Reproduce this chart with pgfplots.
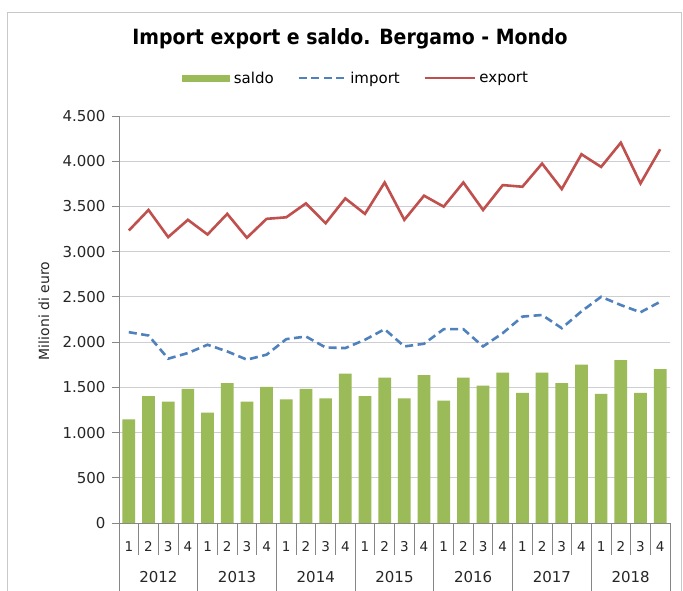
\documentclass[border=0pt]{standalone}
\usepackage{fontspec}
\setmainfont{DejaVu Sans}
\newfontfamily\titlefont{DejaVu Sans Condensed}
\usepackage{pgfplots}
\pgfplotsset{compat=1.18}
\definecolor{saldogreen}{RGB}{155,187,89}
\definecolor{importblue}{RGB}{79,129,189}
\definecolor{exportred}{RGB}{192,80,77}
\definecolor{gridc}{RGB}{205,205,212}
\definecolor{axisgray}{RGB}{134,134,134}
\definecolor{framegray}{RGB}{200,200,200}
\begin{document}
\begin{tikzpicture}
\path[use as bounding box] (-119pt,-67pt) rectangle (564pt,523pt);
\fill[white] (-119pt,-67pt) rectangle (564pt,523pt);
\draw[framegray, line width=0.8pt] (-112pt,-75pt) rectangle (562pt,511pt);
\begin{axis}[
  at={(0pt,0pt)}, anchor=south west, scale only axis,
  width=551pt, height=407pt,
  xmin=-0.5, xmax=27.5, ymin=0, ymax=4500,
  clip=false,
  axis x line*=bottom, axis y line*=left,
  axis line style={-, draw=axisgray, line width=0.9pt},
  ytick={0,500,...,4500},
  ymajorgrids, grid style={draw=gridc, line width=0.9pt},
  tick align=outside, major tick length=7pt,
  ytick style={draw=axisgray, line width=0.9pt},
  xtick style={draw=none},
  xtick={0,...,27},
  xticklabels={1,2,3,4,1,2,3,4,1,2,3,4,1,2,3,4,1,2,3,4,1,2,3,4,1,2,3,4},
  xticklabel style={font=\fontsize{13.5}{16}\selectfont, text=black!85, yshift=-8pt},
  yticklabel style={font=\fontsize{15}{18}\selectfont, text=black!85, /pgf/number format/1000 sep={.}, xshift=-3pt},
  /pgf/number format/assume math mode=true,
  scaled y ticks=false,
  legend style={at={(axis description cs:0.43,1.093)}, anchor=center, draw=none, fill=none,
    legend columns=-1, font=\fontsize{15}{18}\selectfont,
    nodes={inner xsep=1.5pt},
    /tikz/every odd column/.append style={column sep=2pt},
    /tikz/every even column/.append style={column sep=22pt}},
  legend cell align=left,
]
\addplot[ybar, bar width=12.7pt, fill=saldogreen, draw=none,
  legend image code/.code={\fill[saldogreen] (0pt,-3.5pt) rectangle (48pt,3.5pt);}]
  coordinates {
  (0,1146) (1,1403) (2,1341) (3,1484)
  (4,1220) (5,1546) (6,1341) (7,1505)
  (8,1366) (9,1484) (10,1377) (11,1652)
  (12,1403) (13,1608) (14,1377) (15,1634)
  (16,1352) (17,1608) (18,1520) (19,1663)
  (20,1440) (21,1663) (22,1546) (23,1751)
  (24,1429) (25,1802) (26,1440) (27,1700)};
\addlegendentry{saldo}
\addplot[importblue, line width=2.6pt, dash pattern=on 8pt off 4.5pt, mark=none,
  legend image code/.code={\draw[importblue, line width=2.6pt, dash pattern=on 8pt off 4.5pt] (0pt,0pt) -- (47pt,0pt);}]
  coordinates {
  (0,2110) (1,2073) (2,1817) (3,1879)
  (4,1971) (5,1897) (6,1806) (7,1861)
  (8,2033) (9,2062) (10,1941) (11,1934)
  (12,2026) (13,2143) (14,1952) (15,1982)
  (16,2143) (17,2143) (18,1952) (19,2099)
  (20,2282) (21,2300) (22,2154) (23,2340)
  (24,2501) (25,2410) (26,2330) (27,2446)};
\addlegendentry{import}
\addplot[exportred, line width=2.6pt, mark=none,
  legend image code/.code={\draw[exportred, line width=2.6pt] (0pt,0pt) -- (50pt,0pt);}]
  coordinates {
  (0,3234) (1,3461) (2,3161) (3,3352)
  (4,3190) (5,3418) (6,3154) (7,3363)
  (8,3380) (9,3534) (10,3314) (11,3589)
  (12,3418) (13,3765) (14,3352) (15,3619)
  (16,3498) (17,3765) (18,3461) (19,3736)
  (20,3718) (21,3974) (22,3692) (23,4077)
  (24,3937) (25,4205) (26,3754) (27,4132)};
\addlegendentry{export}
\pgfplotsinvokeforeach{-0.5,0.5,1.5,2.5,3.5,4.5,5.5,6.5,7.5,8.5,9.5,10.5,11.5,12.5,13.5,14.5,15.5,16.5,17.5,18.5,19.5,20.5,21.5,22.5,23.5,24.5,25.5,26.5,27.5}{
  \draw[axisgray, line width=0.8pt] (axis cs:#1,0) -- ++(0pt,-32pt);}
\pgfplotsinvokeforeach{-0.5,3.5,7.5,11.5,15.5,19.5,23.5,27.5}{
  \draw[axisgray, line width=0.8pt] (axis cs:#1,0) -- ++(0pt,-70pt);}
\pgfplotsinvokeforeach{0,1,2,3,4,5,6}{
  \node[font=\fontsize{15}{18}\selectfont, text=black!85] at ([yshift=-54pt]axis cs:#1*4+1.5,0) {\the\numexpr2012+#1\relax};}
\end{axis}
\node[font=\titlefont\bfseries\fontsize{21}{25}\selectfont] at (231pt,484pt) {Import export e saldo. Bergamo - Mondo};
\node[rotate=90, font=\fontsize{14}{17}\selectfont, text=black!85] at (-75pt,212pt) {Milioni di euro};
\end{tikzpicture}
\end{document}
